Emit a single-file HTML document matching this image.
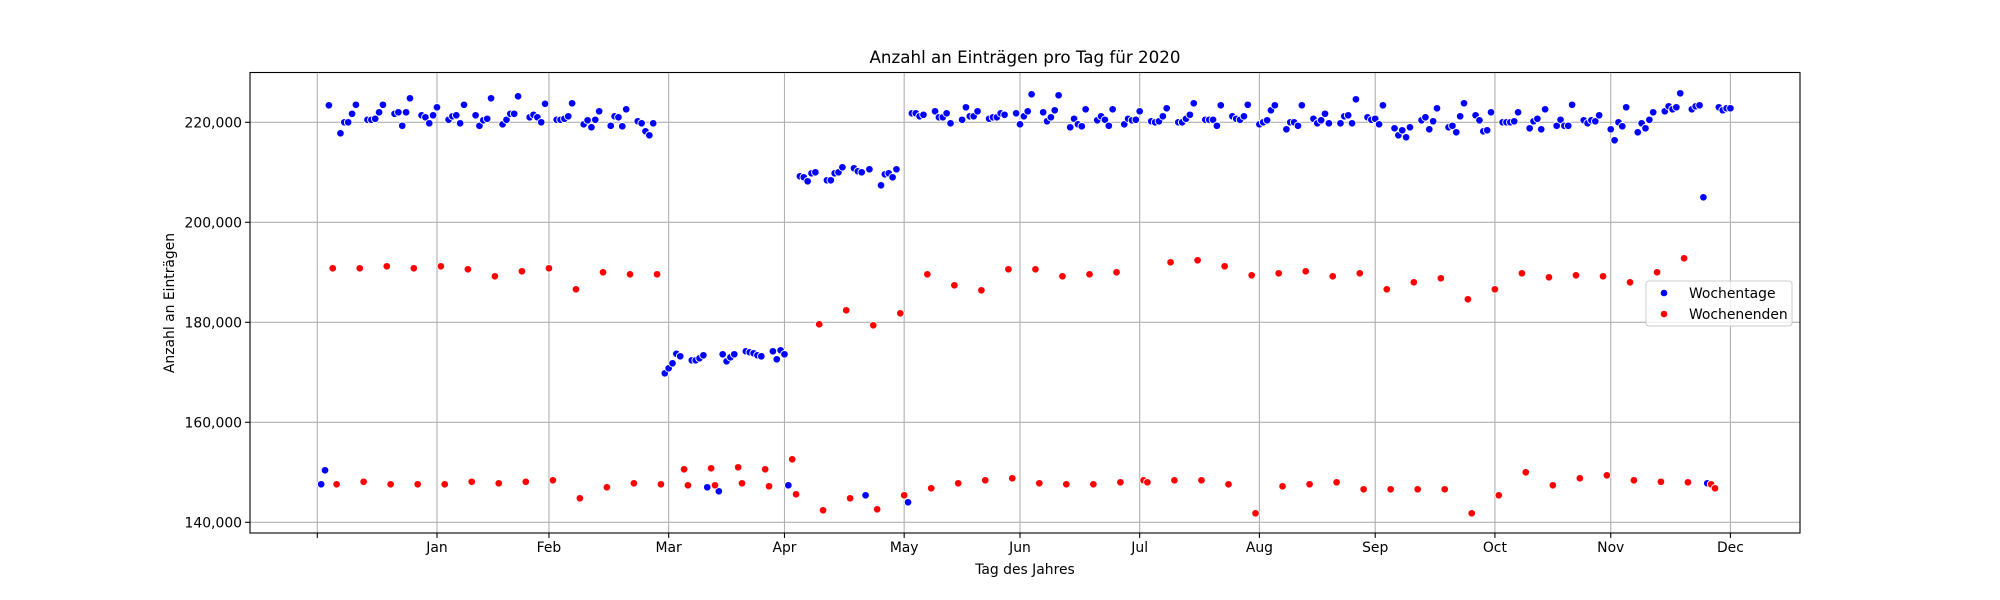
<!DOCTYPE html>
<html><head><meta charset="utf-8"><style>
html,body{margin:0;padding:0;background:#fff;}
svg{display:block;font-family:"DejaVu Sans","Liberation Sans",sans-serif;}
</style></head><body>
<svg id="chart" width="2000" height="600" viewBox="0 0 2000 600" xmlns="http://www.w3.org/2000/svg">
<rect x="0" y="0" width="2000" height="600" fill="#fff"/>
<g id="grid"></g>
<g id="marks"></g>
<g id="axes"></g>
<text x="1025" y="63" font-size="16.7" text-anchor="middle" fill="#000">Anzahl an Einträgen pro Tag für 2020</text>
<text x="1025" y="574" font-size="13.9" text-anchor="middle" fill="#000">Tag des Jahres</text>
<text x="0" y="0" font-size="13.9" text-anchor="middle" fill="#000" transform="translate(174,303) rotate(-90)">Anzahl an Einträgen</text>
<g>
<rect x="1646" y="281" width="146" height="45" rx="3" fill="#fff" fill-opacity="0.8" stroke="#cccccc" stroke-width="1"/>
<circle cx="1664" cy="293" r="3.8" fill="#0000ff" stroke="#fff" stroke-width="1"/>
<text x="1689" y="298" font-size="13.9" fill="#000">Wochentage</text>
<circle cx="1664" cy="314" r="3.8" fill="#ff0000" stroke="#fff" stroke-width="1"/>
<text x="1689" y="319" font-size="13.9" fill="#000">Wochenenden</text>
</g>
</svg>
<script>
// Data (values in thousands). Weekday values in calendar order of 2020 weekdays.
const weekdayVals = [147.6,150.4,223.4,
217.8,220.0,220.0,221.7,223.5, 220.5,220.5,220.7,222.0,223.5, 221.7,222.0,219.3,222.0,224.8,
221.4,221.0,219.8,221.4,223.0, 220.5,221.2,221.4,219.8,223.5, 221.4,219.3,220.4,220.7,224.8,
219.6,220.5,221.7,221.7,225.2, 221.0,221.5,221.0,220.0,223.7, 220.5,220.5,220.7,221.2,223.8,
219.6,220.4,219.0,220.5,222.2, 219.3,221.2,221.0,219.2,222.6, 220.2,219.8,218.2,217.4,219.8,
169.8,170.8,171.8,173.7,173.2, 172.4,172.4,172.8,173.4,147.0, 146.2,173.6,172.2,173.0,173.6,
174.2,174.0,173.8,173.4,173.2, 174.2,172.6,174.4,173.6,147.4, 209.2,209.0,208.2,209.8,210.0,
208.4,208.4,209.8,210.0,211.0, 210.8,210.2,210.0,145.4,210.6, 207.4,209.6,209.8,209.0,210.6,
144.0,221.8,221.8,221.2,221.5, 222.2,221.0,221.0,221.8,219.8, 220.5,223.0,221.2,221.2,222.2,
220.7,221.0,221.0,221.8,221.5, 221.8,219.6,221.2,222.2,225.6, 222.0,220.2,221.0,222.4,225.4,
219.0,220.7,219.6,219.2,222.6, 220.4,221.2,220.5,219.3,222.6, 219.6,220.7,220.4,220.5,222.2,
220.2,220.0,220.2,221.2,222.8, 220.0,220.0,220.7,221.5,223.8, 220.5,220.5,220.5,219.3,223.4,
221.2,220.7,220.5,221.2,223.5, 219.6,220.0,220.4,222.4,223.4, 218.6,220.0,220.0,219.3,223.4,
220.7,219.8,220.4,221.7,219.8, 219.8,221.2,221.4,219.8,224.6, 221.0,220.5,220.7,219.6,223.4,
218.8,217.4,218.4,217.0,219.0, 220.4,221.0,218.6,220.2,222.8, 219.0,219.3,218.0,221.2,223.8,
221.4,220.4,218.2,218.4,222.0, 220.0,220.0,220.0,220.2,222.0, 218.8,220.2,220.7,218.6,222.6,
219.3,220.5,219.3,219.3,223.5, 220.4,219.8,220.4,220.2,221.4, 218.6,216.4,220.0,219.2,223.0,
218.0,219.8,218.8,220.5,222.0, 222.2,223.2,222.6,223.0,225.8, 222.6,223.2,223.4,205.0,147.8,
223.0,222.4,222.8,222.8];
// Weekend values: Saturday, Sunday pairs in calendar order.
const weekendVals = [190.8,147.6, 190.8,148.1, 191.2,147.6, 190.8,147.6, 191.2,147.6, 190.6,148.1,
189.2,147.8, 190.2,148.1, 190.8,148.4, 186.6,144.8, 190.0,147.0, 189.6,147.8, 189.6,147.6,
150.6,147.4, 150.8,147.4, 151.0,147.8, 150.6,147.2, 152.6,145.6, 179.6,142.4, 182.4,144.8,
179.4,142.6, 181.8,145.4, 189.6,146.8, 187.4,147.8, 186.4,148.4, 190.6,148.8, 190.6,147.8,
189.2,147.6, 189.6,147.6, 190.0,148.0, 148.4,148.0, 192.0,148.4, 192.4,148.4, 191.2,147.6,
189.4,141.8, 189.8,147.2, 190.2,147.6, 189.2,148.0, 189.8,146.6, 186.6,146.6, 188.0,146.6,
188.8,146.6, 184.6,141.8, 186.6,145.4, 189.8,150.0, 189.0,147.4, 189.4,148.8, 189.2,149.4,
188.0,148.4, 190.0,148.1, 192.8,148.0, 147.6,146.8];
const xTickDays = [-1,30,59,90,120,151,181,212,243,273,304,334,365];
const xTickLabels = ["","Jan","Feb","Mar","Apr","May","Jun","Jul","Aug","Sep","Oct","Nov","Dec"];
const yTicks = [140000,160000,180000,200000,220000];
const yTickLabels = ["140,000","160,000","180,000","200,000","220,000"];
const year = 2020;

const NS="http://www.w3.org/2000/svg";
const L=250,R=1800,T=72.5,B=533;
const x0px=317.3, pxPerDay=3.861;
function xScale(d){return x0px+(d+1)*pxPerDay;}
function yScale(v){return 122.3+(220000-v)/200;}
function mk(tag,attrs,parent){const e=document.createElementNS(NS,tag);for(const k in attrs)e.setAttribute(k,attrs[k]);parent.appendChild(e);return e;}

// calendar categories
const weekdayDays=[], weekendDays=[];
const nDays=366;
for(let d=0; d<nDays; d++){
  const dow=new Date(Date.UTC(year,0,1+d)).getUTCDay();
  if(dow===0||dow===6) weekendDays.push(d); else weekdayDays.push(d);
}

const grid=document.getElementById('grid'), axes=document.getElementById('axes'), marks=document.getElementById('marks');
xTickDays.forEach((d,i)=>{
  const x=xScale(d);
  const gl=mk('line',{x1:x,x2:x,y1:T,y2:B,stroke:'#b0b0b0','stroke-width':1.1},grid);
  
  
  const tk=mk('line',{x1:x,x2:x,y1:B,y2:B+4.9,stroke:'#000','stroke-width':1.1},axes);
  
  
  const t=mk('text',{x:x,y:B+19,'font-size':13.9,'text-anchor':'middle',fill:'#000'},axes);
  t.textContent=xTickLabels[i];
  
  
});
yTicks.forEach((v,i)=>{
  const y=yScale(v);
  const gl=mk('line',{x1:L,x2:R,y1:y,y2:y,stroke:'#b0b0b0','stroke-width':1.1},grid);
  
  
  const tk=mk('line',{x1:L-4.9,x2:L,y1:y,y2:y,stroke:'#000','stroke-width':1.1},axes);
  
  
  const t=mk('text',{x:L-8,y:y+5,'font-size':13.9,'text-anchor':'end',fill:'#000'},axes);
  t.textContent=yTickLabels[i];
  
  
});
const frame=mk('rect',{x:L,y:T,width:R-L,height:B-T,fill:'none',stroke:'#000','stroke-width':1.1},axes);



weekdayVals.forEach((v,i)=>{
  if(i>=weekdayDays.length) return;
  const c=mk('circle',{cx:xScale(weekdayDays[i]),cy:yScale(v*1000),r:3.8,fill:'#0000ff',stroke:'#fff','stroke-width':0.9},marks);
  
  
});
weekendVals.forEach((v,i)=>{
  if(i>=weekendDays.length) return;
  const c=mk('circle',{cx:xScale(weekendDays[i]),cy:yScale(v*1000),r:3.8,fill:'#ff0000',stroke:'#fff','stroke-width':0.9},marks);
  
  
});
</script>
</body></html>
